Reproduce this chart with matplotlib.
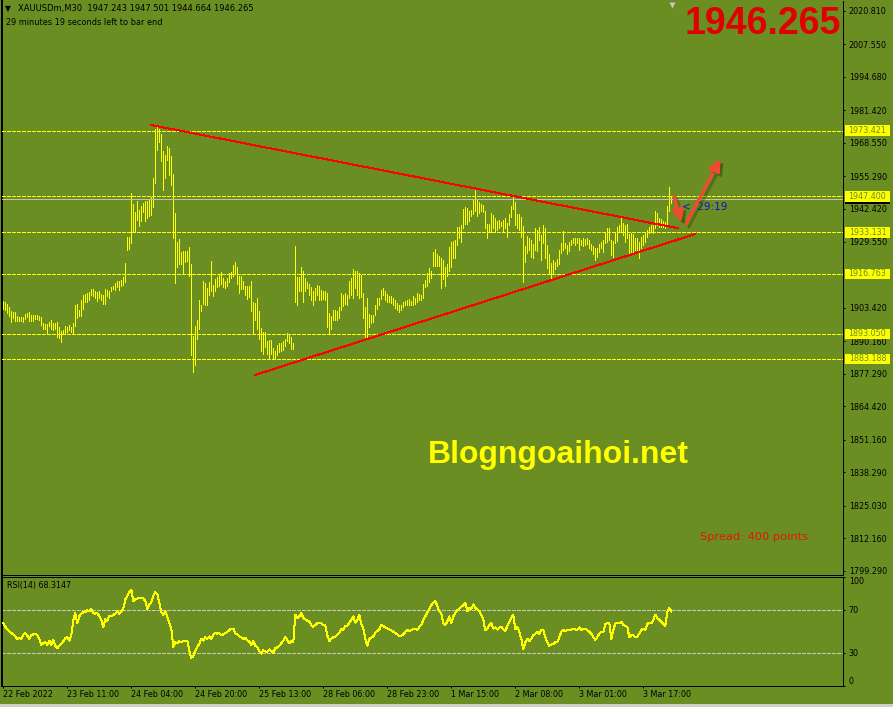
import matplotlib
matplotlib.use("Agg")
import matplotlib.pyplot as plt
import matplotlib.patheffects as pe
from matplotlib.patches import FancyArrowPatch, Rectangle
from matplotlib.transforms import blended_transform_factory

plt.rcParams['font.family'] = ['DejaVu Sans']
plt.rcParams['lines.scale_dashes'] = False

# M30 bars, high / low of each bar (index 0 = first bar on screen)
highs = [
    1906.1, 1905.6, 1904.8, 1903.7, 1902.2, 1901.6, 1901.8, 1899.9, 1899.8, 1899.8,
    1899.7, 1900.8, 1901.4, 1901.8, 1900.6, 1900.3, 1900.6, 1900.6, 1900.2, 1899.8,
    1897.4, 1896.9, 1896.9, 1897.8, 1898.6, 1897.2, 1897.4, 1897.8, 1895.8, 1894.3,
    1894.7, 1896.1, 1895.8, 1896.6, 1895.8, 1897.3, 1904.5, 1904.9, 1902.6, 1906.5,
    1908.5, 1908.9, 1909.1, 1909.4, 1910.8, 1910.8, 1910.0, 1909.4, 1909.8, 1908.9,
    1908.5, 1910.8, 1910.4, 1909.8, 1911.6, 1912.1, 1913.2, 1914.0, 1914.1, 1914.5,
    1915.6, 1921.0, 1931.2, 1931.3, 1948.9, 1944.3, 1941.3, 1945.5, 1942.1, 1943.4,
    1944.7, 1945.5, 1945.5, 1946.4, 1947.3, 1954.6, 1974.2, 1974.7, 1973.9, 1971.9,
    1965.2, 1963.9, 1967.2, 1966.5, 1963.4, 1956.2, 1940.8, 1929.5, 1930.5, 1925.5,
    1925.8, 1925.8, 1925.8, 1927.4, 1920.7, 1892.3, 1896.2, 1898.6, 1906.4, 1904.5,
    1914.0, 1913.2, 1911.1, 1913.7, 1921.9, 1912.4, 1914.8, 1915.6, 1916.3, 1917.4,
    1915.3, 1914.0, 1915.0, 1917.0, 1917.4, 1920.3, 1921.5, 1919.5, 1915.8, 1915.8,
    1914.0, 1912.1, 1911.8, 1911.8, 1914.0, 1905.8, 1905.1, 1907.4, 1901.9, 1895.3,
    1893.7, 1893.7, 1890.3, 1890.7, 1890.6, 1887.4, 1886.1, 1888.8, 1889.3, 1889.3,
    1890.3, 1891.1, 1893.4, 1892.7, 1891.6, 1889.5, 1927.9, 1915.7, 1915.6, 1919.6,
    1917.9, 1915.0, 1913.7, 1912.7, 1911.4, 1909.8, 1911.1, 1912.4, 1912.1, 1910.4,
    1910.0, 1909.8, 1909.3, 1901.1, 1900.1, 1902.6, 1902.6, 1902.2, 1903.7, 1909.3,
    1908.5, 1909.1, 1908.5, 1914.0, 1915.0, 1918.7, 1917.7, 1917.7, 1916.9, 1916.3,
    1909.1, 1903.5, 1907.2, 1900.8, 1900.6, 1900.6, 1904.3, 1907.4, 1907.2, 1910.4,
    1911.1, 1909.8, 1908.7, 1907.9, 1908.2, 1907.4, 1906.5, 1905.2, 1904.5, 1904.5,
    1905.8, 1906.1, 1906.4, 1906.9, 1906.1, 1908.2, 1907.4, 1909.1, 1908.7, 1908.5,
    1912.7, 1914.5, 1917.0, 1919.0, 1917.7, 1925.5, 1926.6, 1924.5, 1923.9, 1923.2,
    1922.1, 1919.6, 1920.6, 1927.5, 1929.5, 1929.8, 1930.1, 1935.3, 1935.4, 1936.1,
    1942.4, 1943.2, 1942.9, 1941.6, 1942.0, 1946.3, 1950.3, 1945.9, 1945.0, 1944.2,
    1943.9, 1941.6, 1936.3, 1936.6, 1940.7, 1940.0, 1938.7, 1937.6, 1937.9, 1937.1,
    1937.9, 1938.7, 1936.7, 1940.3, 1943.4, 1947.2, 1945.0, 1940.5, 1940.3, 1939.2,
    1935.5, 1927.8, 1931.8, 1930.8, 1930.1, 1928.4, 1934.7, 1934.1, 1935.3, 1932.1,
    1936.1, 1934.7, 1928.2, 1924.7, 1920.9, 1922.1, 1921.6, 1922.6, 1926.2, 1928.8,
    1933.7, 1928.8, 1928.2, 1929.2, 1930.1, 1930.8, 1930.8, 1931.1, 1930.8, 1930.1,
    1930.8, 1930.5, 1930.8, 1930.1, 1928.4, 1927.9, 1926.9, 1927.1, 1928.7, 1929.5,
    1930.1, 1932.8, 1935.0, 1934.7, 1930.1, 1929.8, 1933.4, 1935.4, 1936.1, 1938.7,
    1936.7, 1936.1, 1936.3, 1932.4, 1932.8, 1932.4, 1930.8, 1930.8, 1929.5, 1931.4,
    1932.1, 1933.4, 1934.1, 1935.4, 1936.1, 1936.7, 1941.6, 1941.0, 1938.7, 1938.4,
    1937.6, 1937.1, 1943.7, 1951.0, 1947.5,
]
lows = [
    1902.9, 1902.6, 1901.2, 1900.2, 1897.6, 1899.3, 1898.3, 1898.3, 1898.3, 1898.0,
    1897.8, 1899.1, 1899.7, 1898.3, 1898.3, 1898.3, 1899.0, 1899.0, 1898.7, 1896.4,
    1894.8, 1894.9, 1893.2, 1896.0, 1894.8, 1894.7, 1894.8, 1891.8, 1891.3, 1889.7,
    1893.1, 1893.1, 1893.6, 1894.4, 1893.7, 1893.5, 1896.1, 1899.4, 1899.9, 1899.9,
    1902.9, 1905.6, 1905.6, 1906.5, 1908.5, 1908.2, 1907.4, 1906.2, 1907.2, 1906.5,
    1904.7, 1904.7, 1908.2, 1907.4, 1909.8, 1910.6, 1910.2, 1911.4, 1910.2, 1912.1,
    1912.4, 1913.5, 1926.1, 1926.5, 1929.1, 1933.4, 1933.8, 1938.0, 1935.8, 1937.6,
    1941.2, 1937.8, 1938.8, 1939.7, 1940.0, 1943.1, 1952.6, 1965.8, 1968.9, 1961.4,
    1950.0, 1954.7, 1961.8, 1956.0, 1951.9, 1930.8, 1913.3, 1919.6, 1920.6, 1920.7,
    1917.0, 1921.5, 1921.7, 1916.1, 1884.5, 1877.9, 1880.6, 1891.1, 1895.1, 1901.9,
    1904.8, 1904.3, 1904.3, 1908.5, 1910.0, 1908.1, 1909.8, 1911.5, 1912.1, 1912.9,
    1911.4, 1911.1, 1911.8, 1913.7, 1915.0, 1916.1, 1917.1, 1912.7, 1909.1, 1910.8,
    1910.8, 1908.5, 1907.0, 1907.5, 1901.9, 1893.0, 1898.6, 1894.8, 1891.1, 1886.1,
    1885.1, 1887.8, 1885.1, 1883.5, 1885.1, 1883.5, 1883.5, 1884.5, 1885.9, 1886.4,
    1886.8, 1888.2, 1890.1, 1889.4, 1886.9, 1887.2, 1905.8, 1904.5, 1909.8, 1910.0,
    1905.8, 1910.0, 1911.1, 1908.5, 1906.4, 1904.5, 1906.4, 1908.5, 1906.5, 1906.4,
    1906.9, 1906.5, 1895.8, 1893.2, 1894.8, 1898.7, 1898.7, 1898.7, 1899.3, 1902.6,
    1903.9, 1904.8, 1904.3, 1907.4, 1908.5, 1907.4, 1911.1, 1908.5, 1907.4, 1907.8,
    1899.5, 1891.1, 1891.6, 1895.8, 1897.2, 1897.7, 1900.3, 1902.9, 1904.5, 1906.9,
    1908.5, 1906.5, 1905.8, 1905.6, 1905.2, 1904.3, 1903.2, 1902.4, 1901.6, 1902.6,
    1903.5, 1904.3, 1904.5, 1904.5, 1904.3, 1904.5, 1904.8, 1905.8, 1906.4, 1906.4,
    1907.4, 1911.4, 1912.1, 1913.7, 1915.0, 1919.7, 1919.7, 1920.0, 1919.7, 1911.1,
    1914.8, 1912.1, 1916.1, 1917.9, 1919.5, 1923.2, 1923.2, 1928.2, 1930.8, 1929.5,
    1934.7, 1936.3, 1936.6, 1937.6, 1939.7, 1940.5, 1941.6, 1939.5, 1941.0, 1941.6,
    1941.3, 1935.0, 1931.1, 1933.7, 1933.4, 1935.0, 1933.2, 1934.1, 1935.0, 1935.8,
    1933.4, 1935.0, 1931.5, 1936.1, 1939.3, 1942.6, 1936.1, 1935.0, 1934.0, 1931.3,
    1913.7, 1921.3, 1924.9, 1926.2, 1923.6, 1923.2, 1926.3, 1925.8, 1930.1, 1922.3,
    1928.8, 1923.2, 1919.0, 1916.6, 1914.8, 1917.0, 1918.7, 1920.0, 1920.6, 1924.9,
    1926.2, 1926.9, 1924.7, 1925.8, 1928.2, 1928.8, 1928.2, 1928.8, 1926.3, 1928.2,
    1927.9, 1928.2, 1928.4, 1927.1, 1926.2, 1924.5, 1922.1, 1923.6, 1925.3, 1927.1,
    1925.5, 1928.8, 1929.2, 1930.1, 1924.2, 1923.6, 1928.8, 1929.8, 1933.2, 1933.4,
    1932.1, 1929.5, 1931.1, 1924.5, 1924.2, 1925.5, 1926.1, 1925.5, 1922.9, 1927.1,
    1928.2, 1929.5, 1931.5, 1932.8, 1933.2, 1932.8, 1934.7, 1936.1, 1935.4, 1935.3,
    1935.4, 1934.7, 1936.1, 1941.6, 1944.7,
]
# RSI(14) value of each bar
rsi = [
    57.3, 54.1, 51.6, 50.0, 48.4, 47.1, 45.2, 43.0, 44.0, 43.0,
    47.1, 48.4, 45.9, 43.0, 46.2, 47.1, 47.8, 46.2, 43.0, 37.6,
    38.9, 39.8, 37.6, 41.4, 37.6, 42.1, 36.7, 34.4, 36.7, 38.3,
    40.8, 44.0, 44.6, 41.4, 46.2, 60.5, 66.8, 57.3, 63.7, 66.2,
    67.5, 67.5, 69.4, 68.4, 70.6, 66.8, 66.2, 66.8, 63.7, 60.5,
    54.1, 61.1, 59.8, 64.3, 63.7, 64.9, 66.2, 68.4, 66.2, 68.4,
    70.6, 79.5, 82.7, 85.9, 88.4, 77.9, 79.5, 80.2, 80.2, 80.5,
    80.2, 77.9, 70.6, 74.8, 76.4, 82.7, 85.9, 84.3, 76.4, 67.5,
    65.2, 68.4, 63.7, 57.3, 52.5, 35.1, 39.8, 38.9, 40.8, 39.8,
    40.8, 40.8, 41.4, 31.9, 25.5, 27.1, 31.9, 35.7, 38.3, 43.0,
    41.4, 44.6, 43.0, 45.2, 43.0, 47.1, 48.4, 47.8, 48.4, 46.2,
    47.1, 48.4, 49.4, 51.0, 52.5, 52.5, 47.8, 47.1, 45.2, 44.6,
    43.0, 44.0, 41.4, 40.5, 37.6, 40.8, 36.7, 35.1, 31.9, 29.4,
    32.5, 31.3, 31.3, 33.2, 31.9, 30.3, 34.4, 35.1, 36.7, 38.9,
    41.4, 44.6, 42.1, 38.9, 40.8, 39.8, 65.2, 62.1, 63.7, 66.8,
    62.1, 61.1, 59.8, 58.9, 55.7, 54.1, 55.7, 57.3, 57.9, 57.3,
    55.7, 55.7, 46.2, 40.8, 43.0, 44.6, 44.6, 47.1, 48.4, 52.5,
    51.0, 54.8, 54.8, 57.9, 60.5, 63.7, 57.9, 60.5, 65.2, 56.7,
    52.5, 43.0, 36.7, 43.0, 44.0, 45.2, 48.4, 50.3, 51.6, 55.7,
    54.8, 53.5, 52.5, 51.6, 51.0, 49.4, 48.4, 47.1, 45.2, 45.9,
    47.1, 49.4, 51.0, 50.3, 51.0, 51.6, 52.5, 51.0, 54.1, 55.7,
    60.5, 63.7, 67.5, 70.6, 73.8, 76.4, 77.9, 73.2, 68.4, 66.8,
    57.3, 55.7, 58.9, 63.7, 57.3, 63.7, 66.8, 69.4, 70.6, 72.5,
    73.8, 76.4, 68.4, 71.6, 70.6, 74.8, 71.6, 70.0, 68.4, 65.2,
    60.5, 51.0, 52.5, 55.7, 57.3, 52.5, 53.5, 51.6, 53.5, 54.1,
    51.6, 50.3, 54.8, 58.9, 62.1, 65.2, 51.6, 54.1, 49.4, 43.0,
    33.5, 39.8, 43.0, 40.8, 43.0, 46.2, 47.8, 49.4, 47.8, 51.0,
    51.6, 44.6, 39.8, 36.7, 37.6, 38.3, 39.8, 39.8, 44.6, 49.4,
    51.0, 50.3, 51.0, 51.0, 51.6, 52.5, 51.6, 51.6, 53.5, 51.0,
    52.5, 52.5, 51.0, 49.4, 47.8, 44.6, 42.1, 44.6, 47.8, 49.4,
    49.4, 56.7, 57.3, 57.3, 43.0, 51.0, 57.3, 57.9, 57.3, 58.9,
    55.7, 54.8, 54.1, 44.6, 46.2, 46.2, 44.6, 45.2, 47.8, 51.0,
    52.5, 51.0, 56.7, 57.9, 57.3, 60.5, 65.2, 62.1, 60.5, 58.9,
    56.7, 54.8, 67.5, 71.6, 68.3,
]

x_ticks = [0, 32, 64, 96, 128, 160, 192, 224, 256, 288, 320]
x_labels = ["22 Feb 2022", "23 Feb 11:00", "24 Feb 04:00", "24 Feb 20:00",
            "25 Feb 13:00", "28 Feb 06:00", "28 Feb 23:00", "1 Mar 15:00",
            "2 Mar 08:00", "3 Mar 01:00", "3 Mar 17:00"]
price_ticks = [2020.810, 2007.550, 1994.680, 1981.420, 1968.550, 1955.290,
               1942.420, 1929.550, 1903.420, 1890.160, 1877.290,
               1864.420, 1851.160, 1838.290, 1825.030, 1812.160, 1799.290]
levels = [1973.421, 1947.400, 1933.131, 1916.763, 1893.050, 1883.188]
bid = 1946.265
header_ohlc = [1947.243, 1947.501, 1944.664, 1946.265]
rsi_now = 68.3147
rsi_ticks = [100, 70, 30, 0]
rsi_levels = [70, 30]

# drawn objects: (bar index, price)
upper_line_x, upper_line_y = [74.0, 337.4], [1975.6, 1934.8]
lower_line_x, lower_line_y = [126.0, 345.9], [1876.8, 1932.5]
arrow_down_x, arrow_down_y = [335.4, 339.2], [1947.3, 1937.0]
arrow_up_x, arrow_up_y = [341.4, 358.7], [1936.5, 1962.4]

W, H = 893, 707
BG = '#6B8E23'
PX = 0.72  # one pixel in points


def fx(px):
    return px / W


def fy(py):
    return 1 - py / H


fig = plt.figure(figsize=(W / 100, H / 100), dpi=100, facecolor=BG)
ax = fig.add_axes([fx(2), fy(574.5), fx(843) - fx(2), fy(1) - fy(574.5)], facecolor=BG)
ax2 = fig.add_axes([fx(2), fy(685.5), fx(843) - fx(2), fy(577) - fy(685.5)], facecolor=BG)

xs = list(range(len(highs)))
ax.vlines(xs, lows, highs, colors='#FFFF00', linewidth=PX, antialiased=False, zorder=3)
ax.set_xlim(-0.65, 419.85)
ax.set_ylim(1797.88, 2024.65)

for lv in levels:
    ax.axhline(lv, color='#FFFF00', lw=PX, ls=(0, (4 * PX, 2 * PX)), antialiased=False, zorder=4)
ax.axhline(bid, color='#C0C0C0', lw=PX, antialiased=False, zorder=4)

ax.plot(upper_line_x, upper_line_y, color='#FF0000', lw=PX, antialiased=False, zorder=5)
ax.plot(lower_line_x, lower_line_y, color='#FF0000', lw=PX, antialiased=False, zorder=5)

shadow = [pe.SimpleLineShadow(offset=(2, -2), shadow_color='#2E4A0C', alpha=0.4),
          pe.SimplePatchShadow(offset=(2, -2), shadow_rgbFace='#2E4A0C', alpha=0.4),
          pe.Normal()]
for axx, ayy in [(arrow_down_x, arrow_down_y), (arrow_up_x, arrow_up_y)]:
    arr = FancyArrowPatch((axx[0], ayy[0]), (axx[1], ayy[1]),
                          arrowstyle='-|>,head_length=7,head_width=3.2', mutation_scale=1,
                          lw=2.4, color='#F04A32', shrinkA=0, shrinkB=0, zorder=6,
                          path_effects=shadow)
    ax.add_patch(arr)

ax.text(339.5, 1943.2, '<  29:19', fontsize=7.5, color='#1010D0', va='center', ha='left', zorder=5)
ax.plot([334.5], [2023.2], marker='v', ms=4.5, color='#C8C8C8', mec='none', clip_on=False, zorder=6)

# axis look
for a in (ax, ax2):
    a.spines['top'].set_visible(False)
    a.spines['left'].set_linewidth(2 * PX)
    a.spines['right'].set_linewidth(PX)
    a.spines['bottom'].set_linewidth(PX)
    for s in a.spines.values():
        s.set_color('black')
    a.yaxis.tick_right()
    a.tick_params(axis='y', direction='out', length=2.5 * PX, width=PX, color='black',
                  labelsize=5.8, pad=2.3, labelcolor='black')
ax2.spines['top'].set_visible(True)
ax2.spines['top'].set_linewidth(PX)

ax.set_xticks([])
ax.set_yticks(price_ticks)
ax.set_yticklabels(['{:.3f}'.format(v) for v in price_ticks])

# price labels on the right scale
tr = blended_transform_factory(fig.transFigure, ax.transData)
ppu = 573.5 / (2024.65 - 1797.88)
box_h = 10.5 / ppu
ax.add_patch(Rectangle((fx(845), bid - box_h / 2), fx(890) - fx(845), box_h, transform=tr,
                       facecolor='black', edgecolor='none', clip_on=False, zorder=6))
for lv in levels:
    ax.add_patch(Rectangle((fx(845), lv - box_h / 2), fx(890) - fx(845), box_h, transform=tr,
                           facecolor='#FFFF00', edgecolor='none', clip_on=False, zorder=8))
    ax.text(fx(867.5), lv, '{:.3f}'.format(lv), transform=tr, ha='center', va='center',
            fontsize=5.8, color=BG, clip_on=False, zorder=9)

# RSI window
ax2.plot(xs, rsi, color='#FFFF00', lw=PX, antialiased=False, zorder=3)
for lv in rsi_levels:
    ax2.axhline(lv, color='#C8C8C8', lw=PX, ls=(0, (4 * PX, 2 * PX)), antialiased=False, zorder=2)
ax2.set_xlim(-0.65, 419.85)
ax2.set_ylim(0, 100)
ax2.set_yticks(rsi_ticks)
ax2.set_yticklabels([str(v) for v in rsi_ticks])
lbls = ax2.get_yticklabels()
lbls[0].set_va('top')
lbls[-1].set_va('bottom')
ax2.set_xticks(x_ticks)
ax2.set_xticklabels(x_labels)
for lbl in ax2.get_xticklabels():
    lbl.set_ha('left')
ax2.tick_params(axis='x', direction='out', length=2.5 * PX, width=PX, color='black',
                labelsize=5.8, pad=1.2, labelcolor='black')

# texts
fig.text(fx(5), fy(9), '\u25BC', fontsize=5.5, color='black', va='center', ha='left')
fig.text(fx(18), fy(9), 'XAUUSDm,M30  ' + ' '.join('{:.3f}'.format(v) for v in header_ohlc),
         fontsize=6.0, color='black', va='center', ha='left')
fig.text(fx(6), fy(22.5), '29 minutes 19 seconds left to bar end', fontsize=5.85,
         color='black', va='center', ha='left')
fig.text(fx(841), fy(24.5), '{:.3f}'.format(bid), fontsize=27, fontweight='bold',
         family='Liberation Sans', color='#E00000', va='center', ha='right')
fig.text(fx(428), fy(463), 'Blogngoaihoi.net', fontsize=23, fontweight='bold',
         family='Liberation Sans', color='#FFFF00', va='baseline', ha='left')
fig.text(fx(700), fy(537), 'Spread: 400 points', fontsize=8.2, color='#E01A00',
         va='center', ha='left')
fig.text(fx(7), fy(585.7), 'RSI(14) {:.4f}'.format(rsi_now), fontsize=5.8, color='black',
         va='center', ha='left')

fig.patches.append(Rectangle((0, 0), 1, 3 / H, transform=fig.transFigure,
                             facecolor='#D4D0C8', edgecolor='none'))

fig.savefig('out.png', dpi=100, facecolor=BG)
